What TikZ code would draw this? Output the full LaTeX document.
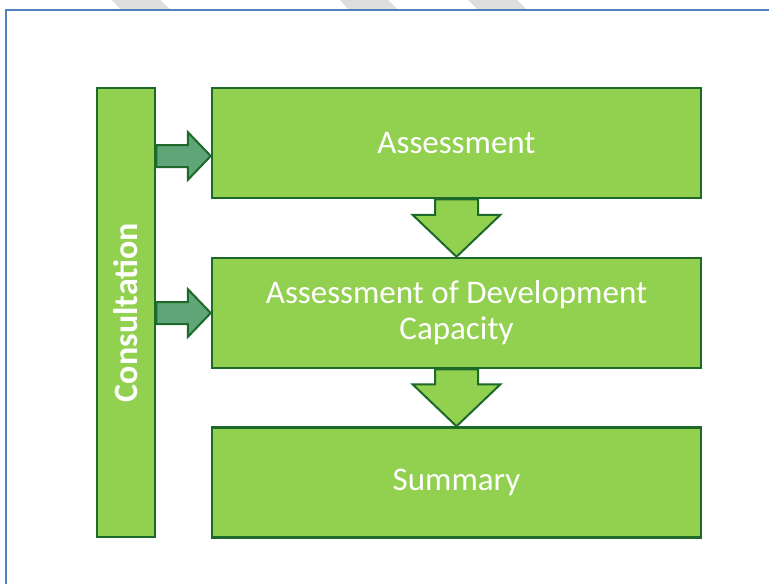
\documentclass[tikz,border=0pt]{standalone}
\usepackage{fontspec}
\setmainfont{Carlito}
\usetikzlibrary{calc}

\definecolor{leaf}{RGB}{146,208,80}
\definecolor{darkleaf}{RGB}{28,105,42}
\definecolor{sidegreen}{RGB}{96,165,120}
\definecolor{frameblue}{RGB}{79,129,189}
\definecolor{stripegray}{RGB}{222,222,222}

\begin{document}
\begin{tikzpicture}[x=1pt, y=-1pt,
    box/.style={draw=darkleaf, fill=leaf, line width=2.5pt, minimum width=489pt, minimum height=110pt, inner sep=0pt, align=center, text=white, font=\fontsize{33}{36}\selectfont},
    side/.style={draw=darkleaf, fill=sidegreen, line width=2pt, line join=miter, to path={let \p1=(\tikztostart), \p2=(\tikztotarget) in
        (\x1,\y1+11) -- (\x2-23,\y1+11) -- (\x2-23,\y1+24) -- (\x2,\y2) -- (\x2-23,\y1-24) -- (\x2-23,\y1-11) -- (\x1,\y1-11) -- cycle}},
    down/.style={draw=darkleaf, fill=leaf, line width=2pt, line join=miter, to path={let \p1=(\tikztostart), \p2=(\tikztotarget) in
        (\x1-21.5,\y1) -- (\x1+21.5,\y1) -- (\x1+21.5,\y2+42) -- (\x1+44,\y2+42) -- (\x2,\y2) -- (\x1-44,\y2+42) -- (\x1-21.5,\y2+42) -- cycle}}]

    \useasboundingbox (0,0) rectangle (769,584);

    % stripes and frame
    \fill[stripegray] (112,0) -- (160,0) -- (170,9) -- (120,9) -- cycle;
    \fill[stripegray] (340,0) -- (388,0) -- (397,9) -- (348,9) -- cycle;
    \fill[stripegray] (468,0) -- (517,0) -- (526,9) -- (477,9) -- cycle;
    \draw[frameblue, line width=2pt] (6,584) -- (6,10) -- (769,10);

    \node[box] (assess) at (456.5,143) {Assessment};
    \node[box] (capacity) at (456.5,313) {Assessment of Development\\Capacity};
    \node[box] (summary) at (456.5,482.5) {Summary};
    \node[box, minimum width=58pt, minimum height=449pt, font=\fontsize{34}{36}\selectfont\bfseries] (cons) at (126,312.5) {\rotatebox{90}{Consultation}};

    \path
        (assess.south) edge[down] (capacity.north)
        (capacity.south) edge[down] (summary.north)
        ($(cons.east |- assess.west)+(0,13)$) edge[side] ($(assess.west)+(0,13)$)
        (cons.east |- capacity.west) edge[side] (capacity.west)
        ;
\end{tikzpicture}
\end{document}
